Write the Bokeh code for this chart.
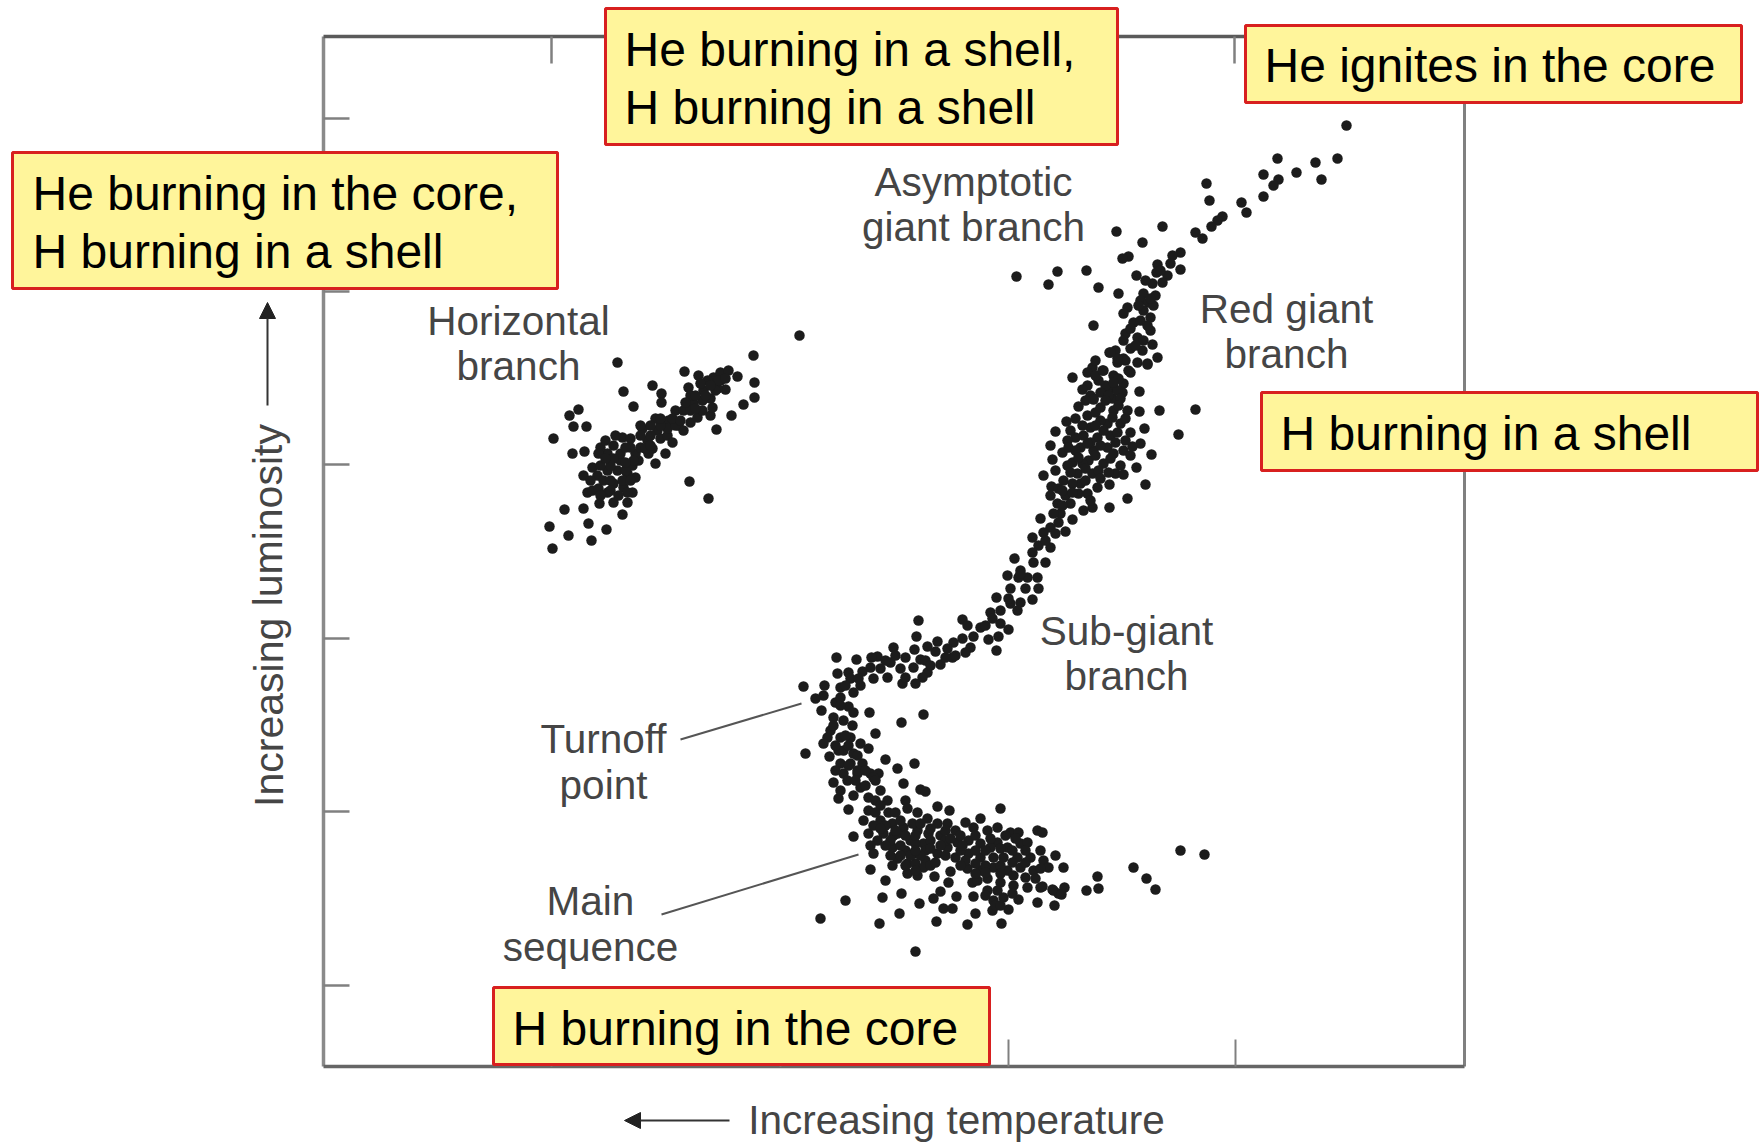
from bokeh.plotting import figure
from bokeh.models import Range1d, Arrow, NormalHead
from bokeh.core.properties import value
from bokeh.embed import file_html
from bokeh.resources import INLINE

# Star readings: (temperature position, luminosity position)
horizontal_branch = [
(799,335),(753,355),(617,362),(684,371),(754,382),(754,397),(743,404),(731,415),(716,429),(623,391),(633,406),(652,385),
(661,393),(661,402),(578,409),(569,415),(573,426),(586,426),(553,438),(572,453),(584,451),(655,463),(689,481),(708,498),
(564,509),(583,508),(549,526),(588,523),(568,535),(606,529),(591,540),(552,548),(622,514),(599,503),(613,502),(627,502),
(587,492),(592,490),(598,488),(607,492),(583,475),(597,475),(607,470),(592,467),(603,480),(613,483),(623,487),(632,492),
(635,477),(627,473),(617,470),(620,460),(632,465),(638,460),(635,453),(620,453),(607,453),(600,447),(598,453),(613,445),
(622,437),(630,438),(630,447),(640,447),(647,440),(642,428),(655,418),(657,430),(652,448),(660,438),(667,435),(672,442),
(665,453),(648,453),(668,420),(675,410),(683,410),(678,425),(683,430),(690,422),(697,417),(688,387),(698,375),(693,403),
(703,390),(702,400),(710,398),(713,377),(720,372),(728,370),(737,376),(725,389),(717,388),(710,415),(712,407),(702,410),
(707,380),(690,410),(667,428),(640,435),(633,460),(622,480),(613,458),(627,492),(610,490),(690,395),(700,383),(720,380),
(715,390),(660,425),(650,435),(625,470),(610,480),(625,462),(645,448),(675,425),(695,395),
(600,465),(610,465),(625,447),(615,435),(605,440),(650,425),(660,418),(672,418),(685,402),(695,408),(705,395),(718,380),
(725,378),(710,385),(590,480),(600,495),(618,495),(630,480),(605,458),(640,425),(650,445),(680,420),
]
upper_giant_branch = [
(1346,125),(1337,158),(1315,162),(1321,179),(1277,158),(1296,172),(1263,174),(1278,179),(1273,185),(1263,196),(1241,202),
(1246,212),(1206,183),(1209,200),(1222,216),(1217,220),(1211,226),(1195,232),(1202,238),(1162,226),(1116,231),(1142,242),
(1128,256),(1122,258),(1180,252),(1172,255),(1170,263),(1180,269),(1157,264),(1156,272),(1167,275),(1136,275),(1016,276),
(1057,271),(1048,284),(1086,270),(1098,287),(1118,293),(1093,325),(1162,282),(1152,283),(1155,295),(1143,293),(1140,300),
(1148,302),(1153,305),(1127,307),(1123,313),(1143,310),(1150,317),(1133,322),(1140,320),(1150,330),(1125,333),(1123,340),
(1137,337),(1143,340),(1152,344),(1142,350),(1130,348),(1109,352),(1157,357),(1147,363),(1137,362),(1123,358),(1117,362),
(1092,367),(1087,372),(1103,370),(1072,377),(1098,380),(1128,370),(1113,375),(1087,385),(1082,389),(1123,383),(1113,387),
(1108,393),(1139,391),(1122,392),(1093,398),
(1135,345),(1115,350),(1130,328),(1147,325),(1138,305),(1150,298),(1145,280),(1160,270),
(1095,360),(1105,385),(1090,395),(1100,392),(1112,398),(1095,375),(1118,378),
]
lower_giant_branch = [
(1195,409),(1178,434),(1159,410),(1139,411),(1144,428),(1151,454),(1136,467),(1145,484),(1127,498),(1109,507),(1109,484),
(1066,421),(1055,431),(1050,445),(1052,459),(1055,470),(1043,475),(1051,486),(1040,518),(1032,537),(1014,558),(1007,575),
(1045,562),(1050,547),(1078,406),(1093,399),(1087,415),(1100,407),(1113,410),(1127,410),(1107,423),(1120,423),(1090,427),
(1075,437),(1097,437),(1110,435),(1130,432),(1080,447),(1093,450),(1107,447),(1123,450),(1140,443),(1132,446),(1062,452),
(1072,462),(1088,460),(1103,463),(1120,465),(1115,473),(1123,474),(1077,473),(1092,473),(1063,480),(1080,483),(1097,487),
(1087,493),(1050,495),(1065,495),(1078,493),(1057,503),(1070,503),(1092,507),(1083,510),(1060,513),(1053,513),(1072,519),
(1050,527),(1065,531),(1055,533),(1043,532),(1038,545),(1032,552),(1033,562),(1020,570),(1037,577),(1027,577),(1018,577),
(1067,440),(1113,453),(1100,420),(1117,390),(1125,360),(1117,358),(1108,395),(1120,398),(1082,463),(1072,483),
(1110,352),(1102,370),(1113,382),(1130,372),(1147,364),
(1085,400),(1095,412),(1105,400),(1118,405),(1075,418),(1082,425),(1095,425),(1112,417),(1125,418),(1070,430),(1083,435),
(1090,442),(1103,430),(1117,432),(1125,440),(1068,447),(1075,450),(1087,443),(1100,445),(1115,442),(1130,455),(1067,465),
(1078,457),(1095,455),(1110,458),(1098,470),(1085,468),(1070,472),(1108,472),(1058,488),(1072,492),(1085,480),(1090,500),
(1062,490),(1100,478),(1058,522),(1045,540),(1062,505),
]
subgiant_branch = [
(1020,573),(1038,588),(1025,588),(1032,599),(1010,588),(996,597),(1020,602),(1010,603),(990,612),(1017,610),(962,619),
(967,625),(1008,629),(1000,623),(992,618),(980,627),(998,636),(988,639),(996,650),(973,636),(962,638),(970,647),(965,652),
(918,620),(916,636),(937,641),(927,646),(935,651),(953,642),(947,648),(952,657),(914,649),(893,647),(940,664),(927,672),
(922,677),(915,683),(902,683),(905,677),(920,659),(913,667),(905,657),(900,668),(877,656),(871,657),(856,659),(836,657),
(890,662),(880,668),(887,677),(873,678),(862,671),(848,672),(837,673),(850,678),(860,685),(853,692),(840,687),(824,685),
(823,695),(815,698),(803,686),(821,710),(835,702),(840,697),(848,706),(853,712),(869,712),(923,714),(901,722),(875,733),
(833,717),(843,720),(852,725),(830,730),(827,737),(823,743),(840,737),(850,737),(860,743),(868,748),(805,753),(829,756),
(843,750),(853,753),(885,759),(914,763),(897,768),(840,763),(850,763),(862,763),(870,773),(878,773),(843,773),(857,773),
(1000,610),(1008,598),(985,625),(955,655),(945,657),(925,660),(930,665),(895,655),(885,660),(870,667),(858,678),(845,685),
(840,705),(833,725),(845,735),(838,750),
]
main_sequence = [
(833,782),(903,783),(920,789),(925,791),(838,798),(848,809),(847,780),(860,787),(873,777),(880,790),(857,770),(868,797),
(887,800),(905,800),(937,806),(949,810),(1000,808),(980,818),(965,822),(853,836),(863,820),(868,810),(868,833),(880,820),
(892,823),(883,833),(893,835),(877,840),(892,847),(873,853),(907,808),(917,812),(927,818),(937,823),(947,823),(903,827),
(917,830),(928,833),(940,835),(955,830),(973,827),(987,830),(997,827),(1010,832),(1018,832),(1037,830),(1042,832),(910,840),
(923,843),(937,853),(947,847),(957,842),(968,840),(980,843),(997,842),(1007,847),(1020,843),(1027,842),(913,853),(925,860),
(897,858),(892,865),(870,869),(907,863),(907,873),(915,863),(917,875),(923,867),(934,876),(950,871),(948,882),(955,857),
(968,853),(980,857),(993,857),(1003,857),(1017,857),(1030,857),(1043,860),(1055,855),(967,868),(980,870),(993,867),(1007,870),
(1020,867),(1033,870),(1048,867),(972,882),(987,878),(1000,882),(1013,885),(1027,887),(1042,886),(1053,890),(1058,893),
(1037,902),(1054,905),(1018,899),(1008,909),(992,910),(993,900),(1003,897),(973,896),(956,896),(940,891),(933,898),(919,903),
(901,893),(882,897),(885,880),(845,900),(820,918),(879,923),(899,913),(943,908),(952,908),(975,913),(936,921),(967,924),
(1001,923),(915,951),(987,890),(997,890),(990,847),(977,880),(1063,867),(1040,887),(1052,889),(1064,887),(1061,894),(1097,876),
(1086,890),(1098,888),(1133,867),(1146,878),(1155,889),(1180,850),(1204,854),
(835,745),(848,745),(857,755),(835,770),(848,765),(855,780),(865,770),(875,780),(865,785),(840,790),(853,795),(875,800),
(880,805),(888,812),(875,812),(895,812),(885,825),(873,825),(900,820),(912,823),(897,833),(905,835),(920,823),(930,828),
(945,830),(960,835),(975,835),(990,838),(1005,835),(1015,838),(925,850),(915,843),(905,850),(930,840),(945,840),(960,850),
(975,850),(985,850),(1000,848),(1012,850),(1025,850),(1040,850),(965,860),(975,863),(985,865),(1000,865),(1012,862),(1025,862),
(1040,868),(1000,873),(985,872),(975,873),(1013,875),(1025,877),(1035,878),(995,905),(985,895),(1000,905),(1012,893),(930,865),
(915,870),(910,855),
(890,840),(900,845),(885,845),(900,855),(915,835),(930,848),(945,855),(960,865),(940,845),(950,838),(962,845),(895,830),
(880,828),(870,845),(905,865),(920,855),(935,862),(915,850),(890,855),
]

# Frame
frame_left, frame_right, frame_top, frame_bottom = 323, 1464, 36, 1066
luminosity_ticks = [118, 291, 464, 638, 811, 985]
temperature_ticks_top = [551, 1234]
temperature_ticks_bottom = [551, 780, 1008, 1235]

# Grey labels: (text, x, y)
branch_labels = [
    ("Horizontal", 518, 320), ("branch", 518, 365),
    ("Asymptotic", 973, 181), ("giant branch", 973, 226),
    ("Red giant", 1286, 308), ("branch", 1286, 353),
    ("Sub-giant", 1126, 630), ("branch", 1126, 675),
    ("Turnoff", 603, 738), ("point", 603, 784),
    ("Main", 590, 900), ("sequence", 590, 946),
]
# Callout boxes: left, right, top, bottom, text left, lines with y
callouts = [
    (12, 557, 152, 288, 32, [("He burning in the core,", 193), ("H burning in a shell", 251)]),
    (605, 1117, 8, 144, 624, [("He burning in a shell,", 49), ("H burning in a shell", 107)]),
    (1245, 1741, 25, 102, 1264, [("He ignites in the core", 65)]),
    (1261, 1757, 392, 470, 1280, [("H burning in a shell", 433)]),
    (493, 989, 987, 1064, 512, [("H burning in the core", 1028)]),
]
FONT = "Liberation Sans"
INK = "#454545"

W, H = 1763, 1142
p = figure(width=W, height=H, x_range=Range1d(0, W), y_range=Range1d(H, 0),
           output_backend="svg", toolbar_location=None, min_border=0,
           x_axis_location=None, y_axis_location=None, outline_line_color=None,
           background_fill_color="white", border_fill_color="white")
p.grid.visible = False

# Frame and ticks
p.segment([frame_left, frame_right, frame_left], [frame_top, frame_top, frame_top],
          [frame_left, frame_right, frame_right], [frame_bottom, frame_bottom, frame_top],
          line_color=["#8a8a8a", "#808080", "#5a5a5a"], line_width=[3.5, 3, 3.5])
p.segment([frame_left], [frame_bottom], [frame_right], [frame_bottom], line_color="#666666", line_width=3.5)
p.segment([frame_left] * len(luminosity_ticks), luminosity_ticks,
          [frame_left + 26] * len(luminosity_ticks), luminosity_ticks, line_color="#808080", line_width=2.5)
p.segment(temperature_ticks_top, [frame_top] * 2, temperature_ticks_top, [frame_top + 27] * 2,
          line_color="#808080", line_width=2.5)
p.segment(temperature_ticks_bottom, [frame_bottom] * 4, temperature_ticks_bottom, [frame_bottom - 27] * 4,
          line_color="#808080", line_width=2)

# Stars
stars = horizontal_branch + upper_giant_branch + lower_giant_branch + subgiant_branch + main_sequence
p.scatter([s[0] for s in stars], [s[1] for s in stars], size=10.5, marker="circle",
          fill_color="#1c1c1c", line_color=None)

# Leader lines
p.segment([680, 661], [739, 914], [801, 858], [703, 854], line_color="#555555", line_width=2)

# Branch labels
p.text([t[1] for t in branch_labels], [t[2] for t in branch_labels], text=[t[0] for t in branch_labels],
       text_font=value(FONT), text_font_size="40.5px", text_color=INK, text_align="center", text_baseline="middle")

# Axis titles with arrows
p.text([268], [615], text=["Increasing luminosity"], angle=1.5708, text_font=value(FONT), text_font_size="41px",
       text_color=INK, text_align="center", text_baseline="middle")
p.text([956], [1119], text=["Increasing temperature"], text_font=value(FONT), text_font_size="40.5px",
       text_color=INK, text_align="center", text_baseline="middle")
p.add_layout(Arrow(end=NormalHead(size=16, fill_color="#222222", line_color="#222222"),
                   x_start=267, y_start=405, x_end=267, y_end=302, line_color="#333333", line_width=2))
p.add_layout(Arrow(end=NormalHead(size=16, fill_color="#222222", line_color="#222222"),
                   x_start=729, y_start=1120, x_end=624, y_end=1120, line_color="#333333", line_width=2))

# Callouts
p.quad(left=[c[0] for c in callouts], right=[c[1] for c in callouts],
       top=[c[2] for c in callouts], bottom=[c[3] for c in callouts],
       fill_color="#fff59b", line_color="#d8201f", line_width=3)
lines_x, lines_y, lines_t = [], [], []
for c in callouts:
    for t, y in c[5]:
        lines_x.append(c[4]); lines_y.append(y); lines_t.append(t)
p.text(lines_x, lines_y, text=lines_t, text_font=value(FONT), text_font_size="48px", text_color="black",
       text_align="left", text_baseline="middle")

open("out.html", "w").write(file_html(p, INLINE))
